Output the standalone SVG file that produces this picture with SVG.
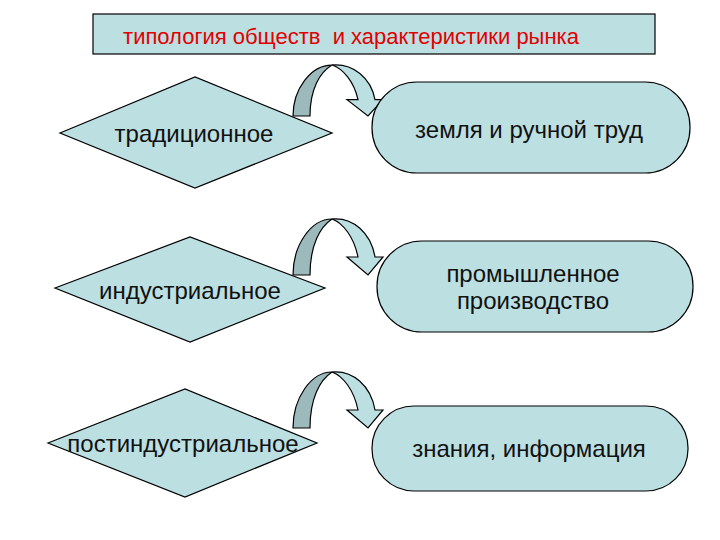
<svg xmlns="http://www.w3.org/2000/svg" width="720" height="540" viewBox="0 0 720 540">
<style>
.box{fill:#bcdfe2;stroke:#000;stroke-width:1.2}
.lt{fill:#bcdfe2;stroke:#000;stroke-width:1.2;vector-effect:non-scaling-stroke}
.dk{fill:#9cb9bb;stroke:#000;stroke-width:1.2;vector-effect:non-scaling-stroke}
.t{font-family:"Liberation Sans",Arial,sans-serif;font-size:24px;fill:#111;text-anchor:middle}
.title{font-family:"Liberation Sans",Arial,sans-serif;font-size:22px;fill:#e00000;text-anchor:middle}
</style>
<defs>
<g id="arr">
<path class="dk" d="M0,0 C0,-30 18,-56 39,-56 C27,-48 17,-30 17,0 Z"/>
<path class="lt" d="M39,-56 C60,-58 78,-42 82,-18 L90,-18 L75,0 L54,-18 L65,-18 C61,-38 50,-52 39,-56 Z"/>
</g>
</defs>
<g id="title">
<rect class="box" x="93" y="14" width="562" height="40"/>
<text class="title" x="351" y="44" xml:space="preserve">типология обществ  и характеристики рынка</text>
</g>
<g id="connectors">
<use href="#arr" transform="translate(293,116) scale(1,0.91)"/>
<use href="#arr" transform="translate(293,275)"/>
<use href="#arr" transform="translate(293,428)"/>
</g>
<g id="n1">
<polygon class="box" points="60,133 195,77 332,133 195,188"/>
<text class="t" x="194" y="142">традиционное</text>
</g>
<g id="n2">
<polygon class="box" points="55,288 190,237 325,288 190,342"/>
<text class="t" x="190" y="299">индустриальное</text>
</g>
<g id="n3">
<polygon class="box" points="48,443 185,389 317,443 185,497"/>
<text class="t" x="183" y="452">постиндустриальное</text>
</g>
<g id="r1">
<rect class="box" x="372" y="82" width="318" height="91" rx="45" ry="45"/>
<text class="t" x="529" y="138">земля и ручной труд</text>
</g>
<g id="r2">
<rect class="box" x="377" y="241" width="316" height="91" rx="45" ry="45"/>
<text class="t" x="533" y="282">промышленное</text>
<text class="t" x="533" y="309">производство</text>
</g>
<g id="r3">
<rect class="box" x="372" y="406" width="316" height="85" rx="42" ry="42"/>
<text class="t" x="529" y="457">знания, информация</text>
</g>
</svg>
